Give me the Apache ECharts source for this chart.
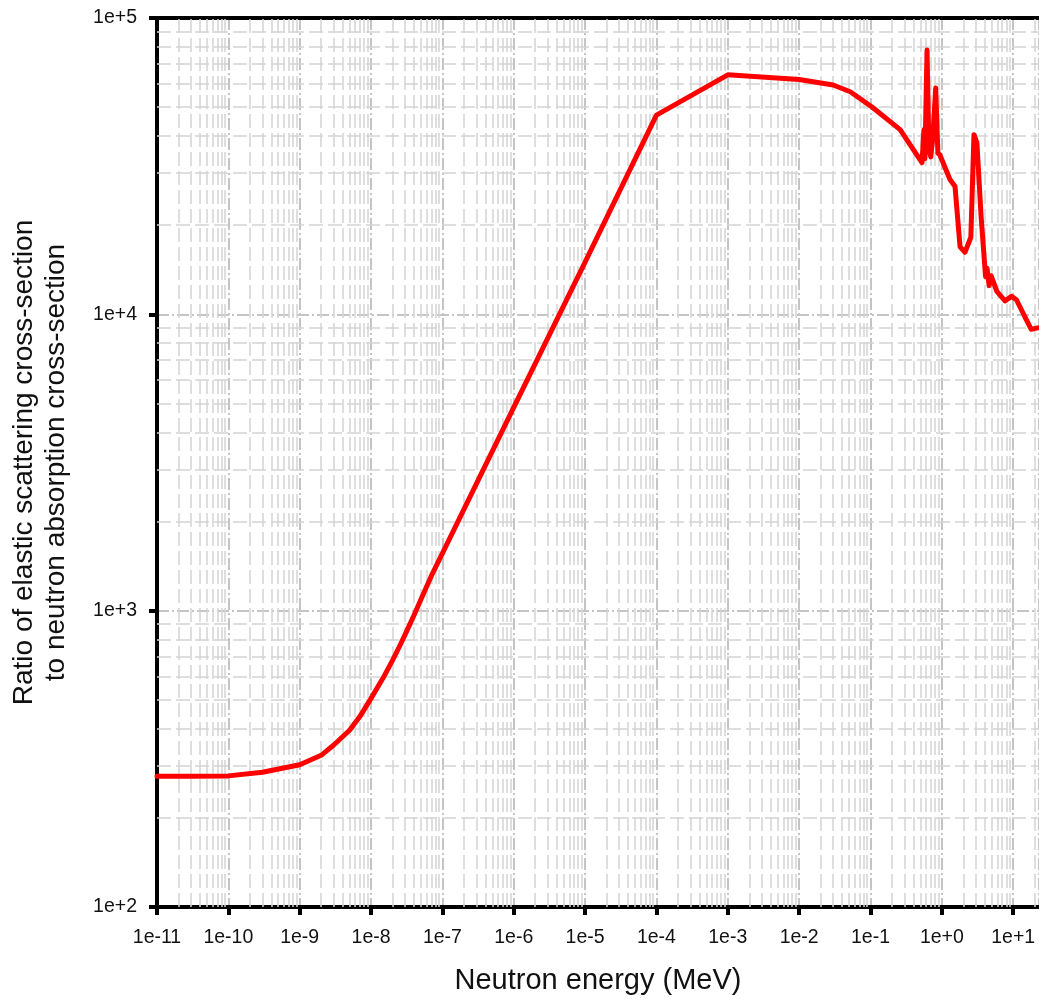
<!DOCTYPE html>
<html>
<head>
<meta charset="utf-8">
<script src="https://cdn.jsdelivr.net/npm/echarts@6/dist/echarts.min.js"></script>
<style>html,body{margin:0;padding:0;background:#fff}#c{width:1039px;height:1000px}</style>
</head>
<body>
<div id="c"></div>
<script>
// Neutron energy (MeV)
const energy = [1e-11, 3e-11, 1e-10, 3e-10, 1e-9, 2e-9, 3e-9, 5e-9, 7e-9, 1e-8, 1.5e-8, 2e-8, 2.5e-8, 3e-8, 4e-8, 5e-8, 7e-8, 1e-7, 1e-6, 1e-5, 1e-4, 1e-3, 1e-2, 0.03, 0.052, 0.105, 0.26, 0.527, 0.561, 0.579, 0.62, 0.66, 0.70, 0.75, 0.82, 0.88, 0.94, 1.3, 1.53, 1.8, 2.11, 2.55, 2.82, 3.1, 3.55, 4.1, 4.3, 4.6, 4.9, 5.9, 7.67, 9.5, 11.1, 15.2, 17.9, 22];
// Ratio of elastic scattering to absorption cross-section
const ratio = [276, 276, 277, 285, 302, 325, 352, 395, 440, 506, 597, 680, 757, 830, 965, 1090, 1310, 1560, 4850, 15000, 47000, 64300, 62000, 59400, 56400, 50100, 42000, 32500, 42000, 33500, 78000, 36000, 34000, 40000, 58000, 35000, 34500, 28500, 27000, 16900, 16200, 18200, 40400, 38000, 21400, 13400, 14300, 12500, 13500, 11950, 11100, 11500, 11200, 9620, 8900, 9000];
// minor grid values
const xMinor = [];
for (let e = -11; e <= 1; e++) for (let m = 2; m <= 9; m++) { const v = m * Math.pow(10, e); if (v < 23) xMinor.push(v); }
const yMinor = [];
for (let e = 2; e <= 4; e++) for (let m = 2; m <= 9; m++) yMinor.push(m * Math.pow(10, e));

const expFmt = function (v) {
  const e = Math.log10(v);
  const r = Math.round(e);
  if (Math.abs(e - r) > 1e-6) return '';
  return '1e' + (r >= 0 ? '+' : '') + r;
};
const FONT = 'Liberation Sans, Arial, sans-serif';
const chart = echarts.init(document.getElementById('c'), null, { renderer: 'canvas' });
const majorGrid = { show: true, lineStyle: { color: '#c4c4c4', width: 2, type: [12, 3, 2, 3] } };
const minorStyle = { color: '#d4d4d4', width: 1.5, type: [14, 5] };
chart.setOption({
  animation: false,
  backgroundColor: '#fff',
  grid: { left: 157, right: 0, top: 18, bottom: 91, containLabel: false },
  xAxis: [{
    type: 'log', logBase: 10, min: 1e-11, max: 23, interval: 1, splitNumber: 12,
    name: 'Neutron energy (MeV)', nameLocation: 'middle', nameGap: 59,
    nameTextStyle: { fontFamily: FONT, fontSize: 29, color: '#111' },
    axisLine: { show: true, onZero: false, lineStyle: { color: '#000', width: 4 } },
    axisTick: { show: true, length: 8, lineStyle: { color: '#000', width: 4 } },
    axisLabel: { formatter: expFmt, fontFamily: FONT, fontSize: 19.5, color: '#111', margin: 21, showMaxLabel: false },
    splitLine: majorGrid
  }, {
    type: 'log', logBase: 10, min: 1e-11, max: 23, position: 'top',
    axisLine: { show: true, onZero: false, lineStyle: { color: '#000', width: 4 } },
    axisTick: { show: false }, axisLabel: { show: false }, splitLine: { show: false }
  }],
  yAxis: {
    type: 'log', logBase: 10, min: 100, max: 100000, interval: 1,
    name: 'Ratio of elastic scattering cross-section\nto neutron absorption cross-section',
    nameLocation: 'middle', nameGap: 85, nameRotate: 90,
    nameTextStyle: { fontFamily: FONT, fontSize: 28, color: '#111', lineHeight: 32, align: 'center' },
    axisLine: { show: true, onZero: false, lineStyle: { color: '#000', width: 4 } },
    axisTick: { show: true, length: 8, lineStyle: { color: '#000', width: 4 } },
    axisLabel: { formatter: expFmt, fontFamily: FONT, fontSize: 19.5, color: '#111', margin: 20 },
    splitLine: majorGrid
  },
  series: [{
    type: 'line', z: 1, silent: true, showSymbol: false,
    data: [[energy[0], ratio[0]]], lineStyle: { width: 0 },
    markLine: {
      z: 1, silent: true, symbol: 'none', precision: 20, label: { show: false }, animation: false,
      lineStyle: minorStyle,
      data: xMinor.map(v => ({ xAxis: v })).concat(yMinor.map(v => ({ yAxis: v })))
    }
  }, {
    type: 'line', z: 10, showSymbol: false, smooth: false,
    data: energy.map((e, i) => [e, ratio[i]]),
    lineStyle: { color: '#ff0000', width: 5, join: 'round', cap: 'round' }
  }]
});
</script>
</body>
</html>
